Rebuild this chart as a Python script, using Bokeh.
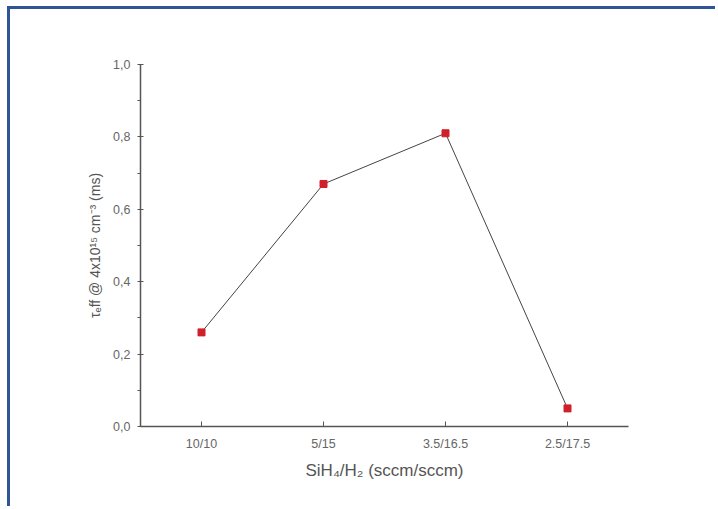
from bokeh.plotting import figure
from bokeh.embed import file_html
from bokeh.resources import INLINE
from bokeh.models import FixedTicker, CustomJSTickFormatter, ColumnDataSource, Range1d, FactorRange

categories = ["10/10", "5/15", "3.5/16.5", "2.5/17.5"]
tau_ms = [0.26, 0.67, 0.81, 0.05]
y_ticks = [0.0, 0.2, 0.4, 0.6, 0.8, 1.0]
y_minor = [0.1, 0.3, 0.5, 0.7, 0.9]

src = ColumnDataSource(data=dict(x=categories, y=tau_ms))

p = figure(width=708, height=500, output_backend="svg", toolbar_location=None,
           x_range=FactorRange(factors=categories, range_padding=0),
           y_range=Range1d(0, 1.0),
           min_border_left=130, min_border_right=90, min_border_top=55, min_border_bottom=83,
           styles={"border-left": "3px solid #2f5597", "border-top": "3px solid #2f5597",
                   "margin-left": "7px", "margin-top": "6px"})

p.line("x", "y", source=src, line_color="#444444", line_width=1)
p.scatter("x", "y", source=src, marker="square", size=7, fill_color="#d0202a", line_color="#d0202a")

p.grid.visible = False
p.outline_line_color = None

font = "Liberation Sans"
for ax in (p.xaxis[0], p.yaxis[0]):
    ax.axis_line_color = "#555555"
    ax.axis_line_width = 1.5
    ax.major_tick_line_color = "#555555"
    ax.minor_tick_line_color = "#555555"
    ax.major_label_text_font = font
    ax.major_label_text_font_size = "12.5px"
    ax.major_label_text_color = "#666666"
    ax.axis_label_text_font = font
    ax.axis_label_text_font_style = "normal"
    ax.axis_label_text_color = "#555555"

p.xaxis.major_tick_in = 5
p.xaxis.major_tick_out = 0
p.xaxis.major_label_standoff = 10
p.xaxis.axis_label = "SiH\u2084/H\u2082 (sccm/sccm)"
p.xaxis.axis_label_text_font_size = "17px"
p.xaxis.axis_label_standoff = 7

p.yaxis.ticker = FixedTicker(ticks=y_ticks, minor_ticks=y_minor)
p.yaxis.formatter = CustomJSTickFormatter(code="return tick.toFixed(1).replace('.', ',');")
p.yaxis.major_tick_in = 3
p.yaxis.major_tick_out = 3
p.yaxis.minor_tick_in = 0
p.yaxis.minor_tick_out = 3
p.yaxis.major_label_standoff = 7
p.yaxis.axis_label = "\u03c4\u2091ff @ 4x10\u00b9\u2075 cm\u207b\u00b3 (ms)"
p.yaxis.axis_label_text_font_size = "14px"
p.yaxis.axis_label_standoff = 7

open("out.html", "w").write(file_html(p, INLINE))
